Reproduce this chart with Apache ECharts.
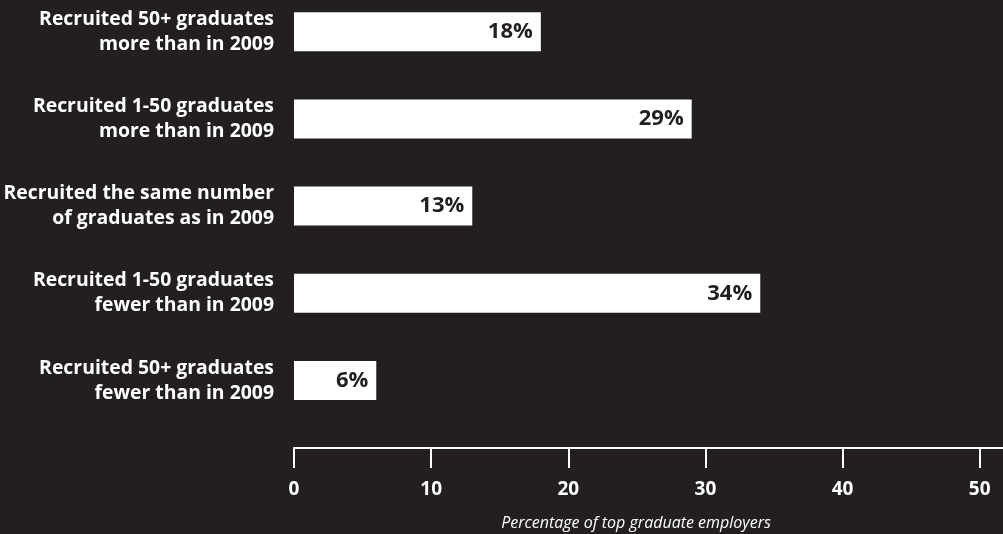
<!DOCTYPE html>
<html><head><meta charset="utf-8">
<script src="https://cdn.jsdelivr.net/npm/echarts@6/dist/echarts.min.js"></script>
<style>html,body{margin:0;padding:0;background:#231f20;}#c{width:1003px;height:534px;}</style>
</head><body><div id="c"></div>
<script>
const categories = [
  "Recruited 50+ graduates\nmore than in 2009",
  "Recruited 1-50 graduates\nmore than in 2009",
  "Recruited the same number\nof graduates as in 2009",
  "Recruited 1-50 graduates\nfewer than in 2009",
  "Recruited 50+ graduates\nfewer than in 2009"
];
const values = [18, 29, 13, 34, 6];
const tickValues = [0, 10, 20, 30, 40, 50];
const axisTitle = "Percentage of top graduate employers";

const chart = echarts.init(document.getElementById('c'), null, {renderer: 'canvas'});
const font = '"Open Sans", "Noto Sans", sans-serif';
chart.setOption({
  backgroundColor: '#231f20',
  animation: false,
  grid: {left: 294, right: 0, top: 31.7, height: 348.8, containLabel: false},
  xAxis: {
    type: 'value', min: 0, max: 51.7, interval: 10, offset: 67.5,
    axisLine: {show: true, lineStyle: {color: '#ffffff', width: 2}},
    axisTick: {show: true, inside: false, length: 20, customValues: tickValues, lineStyle: {color: '#ffffff', width: 2}},
    axisLabel: {customValues: tickValues, color: '#ffffff', fontFamily: font, fontWeight: 'bold', fontSize: 19, margin: 32},
    splitLine: {show: false}
  },
  yAxis: {
    type: 'category', inverse: true, data: categories, boundaryGap: false,
    axisLine: {show: false}, axisTick: {show: false}, splitLine: {show: false},
    axisLabel: {color: '#ffffff', fontFamily: font, fontWeight: 'bold', fontSize: 19.4, lineHeight: 25, align: 'right', margin: 20}
  },
  series: [{
    type: 'bar', data: values, barWidth: 39,
    itemStyle: {color: '#ffffff'},
    label: {show: true, position: 'insideRight', distance: 8, formatter: '{c}%', color: '#231f20', fontFamily: font, fontWeight: 'bold', fontSize: 22}
  }],
  graphic: [{
    type: 'text', x: 636, y: 523,
    style: {text: axisTitle, fill: '#ffffff', font: 'italic 16px ' + font, align: 'center', verticalAlign: 'middle'}
  }]
});
</script></body></html>
